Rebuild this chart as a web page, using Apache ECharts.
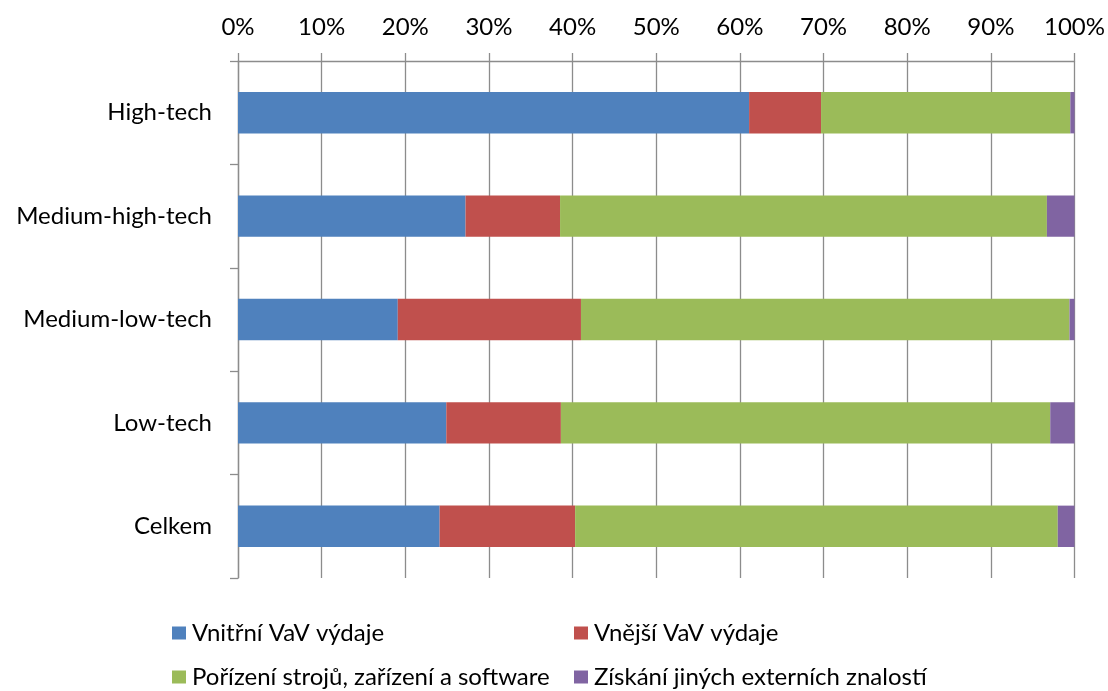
<!DOCTYPE html>
<html>
<head>
<meta charset="utf-8">
<script src="https://cdn.jsdelivr.net/npm/echarts@6/dist/echarts.min.js"></script>
<style>
  html, body { margin: 0; padding: 0; background: #ffffff; }
  #chart { width: 1108px; height: 691px; }
</style>
</head>
<body>
<div id="chart"></div>
<script>
// Struktura výdajů na inovace podle technologické náročnosti (podíl v %)
const categories = ['High-tech', 'Medium-high-tech', 'Medium-low-tech', 'Low-tech', 'Celkem'];
const seriesNames = [
  'Vnitřní VaV výdaje',
  'Vnější VaV výdaje',
  'Pořízení strojů, zařízení a software',
  'Získání jiných externích znalostí'
];
const vnitrniVaV   = [61.1, 27.2, 19.1, 24.9, 24.1];
const vnejsiVaV    = [8.6, 11.3, 21.9, 13.7, 16.2];
const stroje       = [29.8, 58.2, 58.4, 58.5, 57.7];
const jineZnalosti = [0.5, 3.3, 0.6, 2.9, 2.0];
const tickLabels = ['0%', '10%', '20%', '30%', '40%', '50%', '60%', '70%', '80%', '90%', '100%'];

const colors = ['#4F81BD', '#C0504D', '#9BBB59', '#8064A2'];
const values = [vnitrniVaV, vnejsiVaV, stroje, jineZnalosti];
const fontFamily = 'Lato, "Open Sans", sans-serif';
const fontSize = 24;
const gridColor = '#8c8c8c';

const chart = echarts.init(document.getElementById('chart'), null, { renderer: 'canvas' });

// legend laid out in two rows of two entries
const legendPos = [
  { left: 172, top: 621 },
  { left: 574, top: 621 },
  { left: 172, top: 665 },
  { left: 574, top: 665 }
];

chart.setOption({
  animation: false,
  backgroundColor: '#ffffff',
  grid: { left: 238, right: 31, top: 61, bottom: 113, containLabel: false },
  legend: seriesNames.map((name, i) => ({
    data: [name],
    left: legendPos[i].left,
    top: legendPos[i].top,
    itemWidth: 14,
    itemHeight: 13,
    padding: 0,
    icon: 'rect',
    selectedMode: false,
    textStyle: { fontFamily, fontSize, color: '#000000', padding: [0, 0, 0, 1] }
  })),
  xAxis: {
    type: 'value',
    position: 'top',
    min: 0,
    max: 100,
    interval: 10,
    axisLine: { show: true, lineStyle: { color: gridColor, width: 1.3 } },
    axisTick: { show: true, length: 8, lineStyle: { color: gridColor, width: 1.3 } },
    splitLine: { show: true, lineStyle: { color: gridColor, width: 1.3 } },
    axisLabel: {
      margin: 22,
      fontFamily,
      fontSize,
      color: '#000000',
      formatter: (v) => tickLabels[Math.round(v / 10)]
    }
  },
  yAxis: {
    type: 'category',
    data: categories,
    inverse: true,
    axisLine: { show: true, lineStyle: { color: gridColor, width: 1.3 } },
    axisTick: { show: true, length: 8, lineStyle: { color: gridColor, width: 1.3 } },
    axisLabel: { margin: 26, fontFamily, fontSize, color: '#000000' }
  },
  series: seriesNames.map((name, i) => ({
    name,
    type: 'bar',
    stack: 'total',
    barCategoryGap: '60%',
    data: values[i],
    itemStyle: { color: colors[i] }
  }))
});
</script>
</body>
</html>
